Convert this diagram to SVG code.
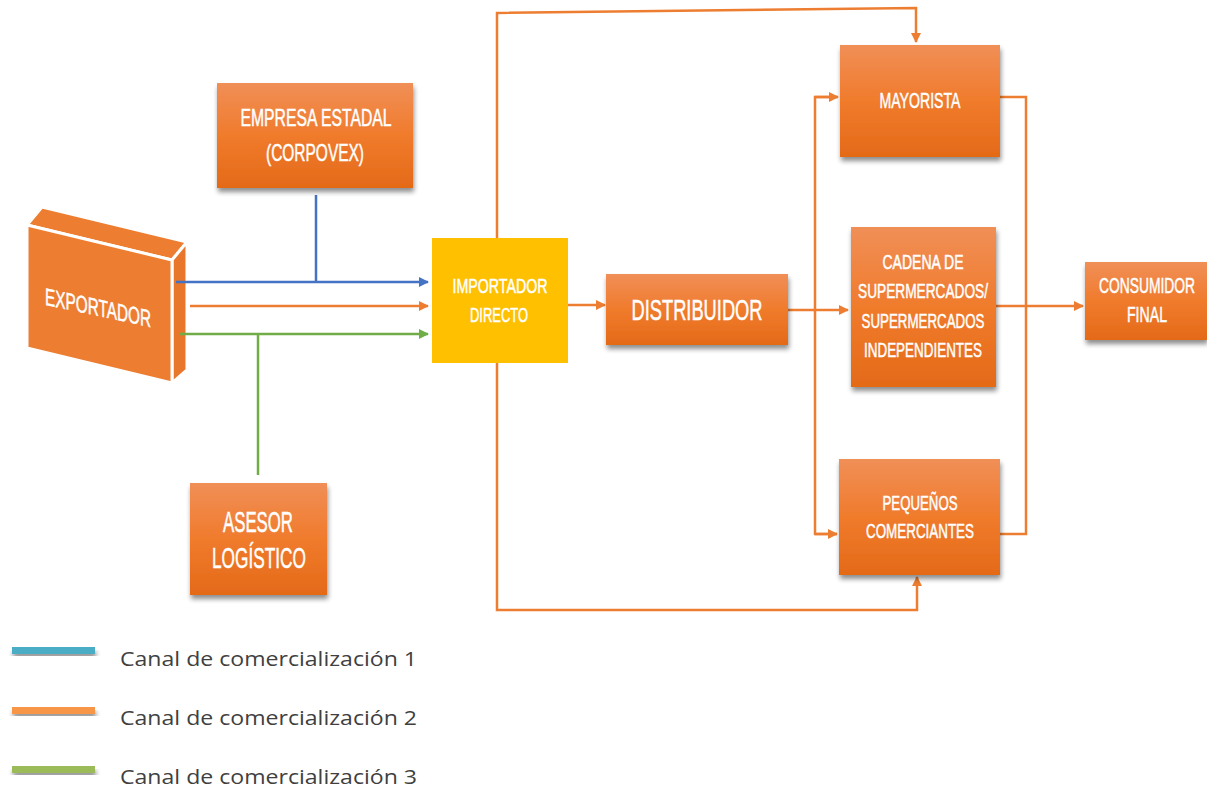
<svg xmlns="http://www.w3.org/2000/svg" width="1207" height="791" viewBox="0 0 1207 791">
<defs>
  <linearGradient id="og" x1="0" y1="0" x2="0" y2="1">
    <stop offset="0" stop-color="#F08F57"/>
    <stop offset="0.5" stop-color="#F07B2C"/>
    <stop offset="1" stop-color="#E46A18"/>
  </linearGradient>
  <filter id="sh" x="-10%" y="-10%" width="125%" height="130%">
    <feGaussianBlur in="SourceAlpha" stdDeviation="2.5"/>
    <feOffset dx="1" dy="4" result="b"/>
    <feComponentTransfer><feFuncA type="linear" slope="0.45"/></feComponentTransfer>
    <feMerge><feMergeNode/><feMergeNode in="SourceGraphic"/></feMerge>
  </filter>
  <marker id="ao" viewBox="0 0 10 10" refX="9" refY="5" markerWidth="4" markerHeight="4" orient="auto" markerUnits="strokeWidth">
    <path d="M0,0 L10,5 L0,10 z" fill="#ED7D31"/>
  </marker>
  <marker id="ab" viewBox="0 0 10 10" refX="9" refY="5" markerWidth="4" markerHeight="4" orient="auto" markerUnits="strokeWidth">
    <path d="M0,0 L10,5 L0,10 z" fill="#4472C4"/>
  </marker>
  <marker id="ag" viewBox="0 0 10 10" refX="9" refY="5" markerWidth="4" markerHeight="4" orient="auto" markerUnits="strokeWidth">
    <path d="M0,0 L10,5 L0,10 z" fill="#70AD47"/>
  </marker>
  <style>
    .box { fill: url(#og); filter: url(#sh); }
    .t { font-family: "Liberation Sans", Arial, sans-serif; fill: #FFFFFF; stroke: #FFFFFF; stroke-width: 0.5; text-anchor: middle; }
    .co { fill: none; stroke: #ED7D31; stroke-width: 2.5; }
    .cb { fill: none; stroke: #4472C4; stroke-width: 2.5; }
    .cg { fill: none; stroke: #70AD47; stroke-width: 2.5; }
    .leg { font-family: "Open Sans", "Liberation Sans", sans-serif; font-size: 20px; fill: #404040; }
  </style>
</defs>
<rect width="1207" height="791" fill="#FFFFFF"/>

<g id="exportador">
  <polygon points="27,225 42,207 187,242 172,260" fill="#ED7D31" stroke="#FFFFFF" stroke-width="3" stroke-linejoin="round"/>
  <polygon points="172,260 187,242 187,370 172,383" fill="#E8762B" stroke="#FFFFFF" stroke-width="3" stroke-linejoin="round"/>
  <polygon points="27,225 172,260 172,383 27,348" fill="#ED7D31" stroke="#FFFFFF" stroke-width="3" stroke-linejoin="round"/>
  <text class="t" font-size="24" transform="translate(98,316) skewY(12)" textLength="106" lengthAdjust="spacingAndGlyphs">EXPORTADOR</text>
</g>

<g id="connectors">
  <line class="cb" x1="316" y1="195" x2="316" y2="282"/>
  <line class="cb" x1="176" y1="282" x2="428" y2="282" marker-end="url(#ab)"/>
  <line class="co" x1="190" y1="306" x2="428" y2="306" marker-end="url(#ao)"/>
  <line class="cg" x1="179" y1="334" x2="428" y2="334" marker-end="url(#ag)"/>
  <line class="cg" x1="258" y1="334" x2="258" y2="475"/>
  <line class="co" x1="568" y1="305" x2="605" y2="305" marker-end="url(#ao)"/>
  <polyline class="co" points="497,238 497,13 916,8 916,42" marker-end="url(#ao)"/>
  <polyline class="co" points="497,363 497,610 917,610 917,577" marker-end="url(#ao)"/>
  <line class="co" x1="788" y1="310" x2="848" y2="310" marker-end="url(#ao)"/>
  <polyline class="co" points="837,97 815,97 815,534 837,534"/>
  <line class="co" x1="815" y1="97" x2="838" y2="97" marker-end="url(#ao)"/>
  <line class="co" x1="815" y1="534" x2="837" y2="534" marker-end="url(#ao)"/>
  <polyline class="co" points="1000,97 1026,97 1026,534 1000,534"/>
  <line class="co" x1="996" y1="306" x2="1083" y2="306" marker-end="url(#ao)"/>
</g>

<g id="empresa">
  <rect class="box" x="217" y="83" width="196" height="105"/>
  <text class="t" font-size="24" x="316" y="126" textLength="151" lengthAdjust="spacingAndGlyphs">EMPRESA ESTADAL</text>
  <text class="t" font-size="24" x="315" y="161" textLength="98" lengthAdjust="spacingAndGlyphs">(CORPOVEX)</text>
</g>

<g id="asesor">
  <rect class="box" x="190" y="483" width="137" height="112"/>
  <text class="t" font-size="30" x="258" y="532" textLength="70" lengthAdjust="spacingAndGlyphs">ASESOR</text>
  <text class="t" font-size="30" x="259" y="568" textLength="94" lengthAdjust="spacingAndGlyphs">LOGÍSTICO</text>
</g>

<g id="importador">
  <rect x="432" y="238" width="136" height="125" fill="#FFC000"/>
  <text class="t" font-size="21" x="500" y="293" textLength="95" lengthAdjust="spacingAndGlyphs">IMPORTADOR</text>
  <text class="t" font-size="21" x="499" y="322" textLength="58" lengthAdjust="spacingAndGlyphs">DIRECTO</text>
</g>

<g id="distribuidor">
  <rect class="box" x="606" y="274" width="182" height="71"/>
  <text class="t" font-size="30" x="697" y="320" textLength="131" lengthAdjust="spacingAndGlyphs">DISTRIBUIDOR</text>
</g>

<g id="mayorista">
  <rect class="box" x="840" y="45" width="160" height="112"/>
  <text class="t" font-size="22" x="920" y="108" textLength="81" lengthAdjust="spacingAndGlyphs">MAYORISTA</text>
</g>

<g id="cadena">
  <rect class="box" x="851" y="227" width="145" height="160"/>
  <text class="t" font-size="21" x="923" y="269" textLength="81" lengthAdjust="spacingAndGlyphs">CADENA DE</text>
  <text class="t" font-size="21" x="923" y="298" textLength="130" lengthAdjust="spacingAndGlyphs">SUPERMERCADOS/</text>
  <text class="t" font-size="21" x="923" y="328" textLength="123" lengthAdjust="spacingAndGlyphs">SUPERMERCADOS</text>
  <text class="t" font-size="21" x="923" y="357" textLength="118" lengthAdjust="spacingAndGlyphs">INDEPENDIENTES</text>
</g>

<g id="consumidor">
  <rect class="box" x="1085" y="262" width="122" height="78"/>
  <text class="t" font-size="22" transform="translate(1147,293) scale(0.63,1)">CONSUMIDOR</text>
  <text class="t" font-size="22" x="1147" y="322" textLength="40" lengthAdjust="spacingAndGlyphs">FINAL</text>
</g>

<g id="pequenos">
  <rect class="box" x="839" y="459" width="161" height="116"/>
  <text class="t" font-size="21" x="920" y="510" textLength="75" lengthAdjust="spacingAndGlyphs">PEQUEÑOS</text>
  <text class="t" font-size="21" x="920" y="538" textLength="108" lengthAdjust="spacingAndGlyphs">COMERCIANTES</text>
</g>

<g id="legend">
  <rect x="12" y="647" width="83" height="7" fill="#4BACC6" filter="url(#sh)"/>
  <rect x="12" y="707" width="83" height="7" fill="#F79646" filter="url(#sh)"/>
  <rect x="12" y="766" width="83" height="7" fill="#9BBB59" filter="url(#sh)"/>
  <text class="leg" x="120" y="666" textLength="297" lengthAdjust="spacingAndGlyphs">Canal de comercialización 1</text>
  <text class="leg" x="120" y="725" textLength="297" lengthAdjust="spacingAndGlyphs">Canal de comercialización 2</text>
  <text class="leg" x="120" y="784" textLength="297" lengthAdjust="spacingAndGlyphs">Canal de comercialización 3</text>
</g>
</svg>
